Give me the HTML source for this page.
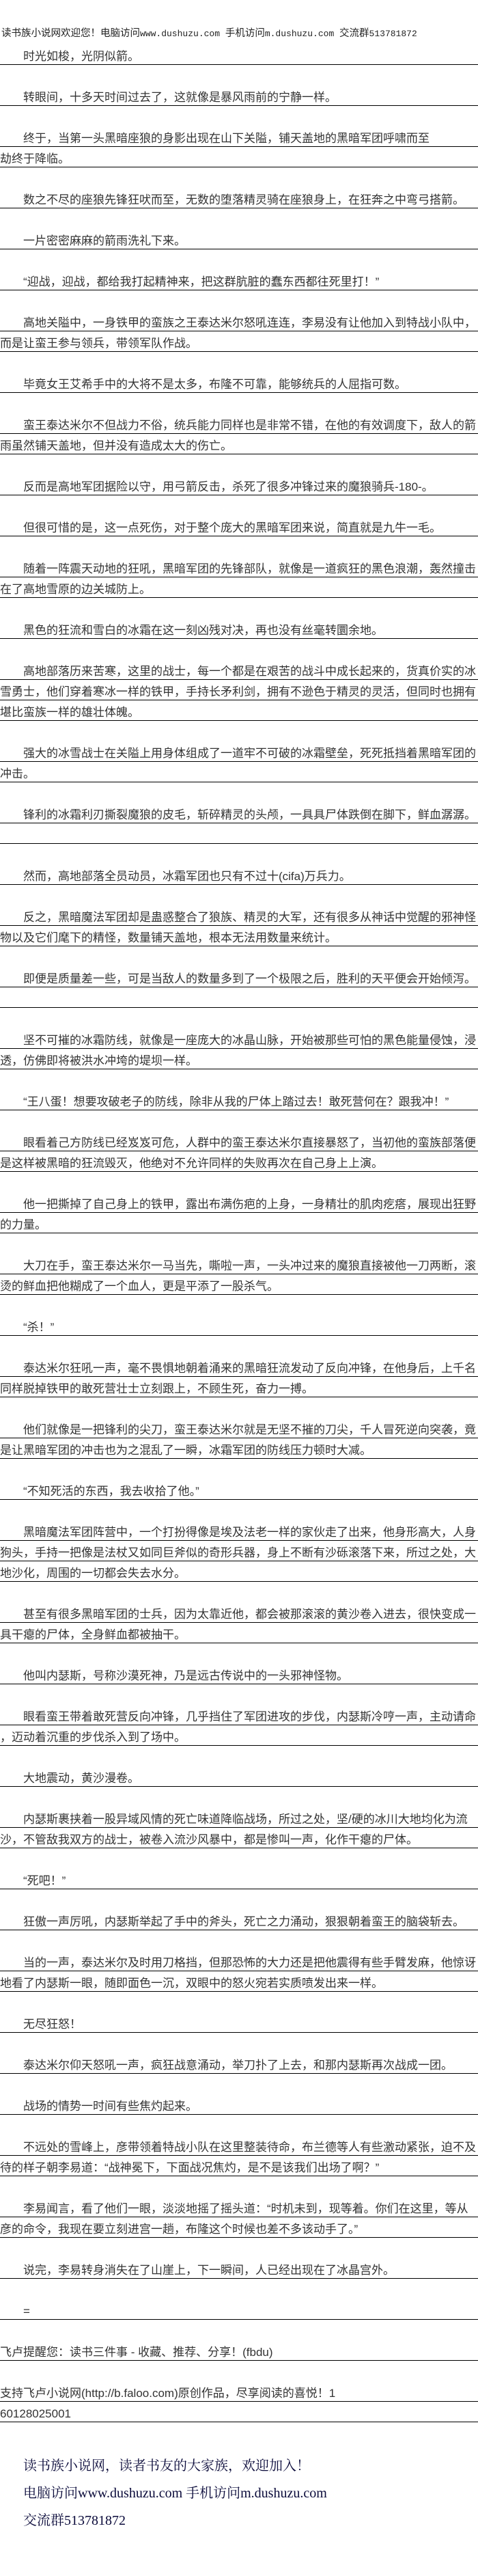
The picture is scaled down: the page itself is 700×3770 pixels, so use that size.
<!DOCTYPE html>
<html><head><meta charset="utf-8">
<style>
html,body{margin:0;padding:0;background:#fff;}
body{width:700px;height:3770px;position:relative;overflow:hidden;font-family:"Liberation Sans","Noto Sans CJK SC",sans-serif;}
.r{position:absolute;left:0;width:700px;height:30px;box-sizing:border-box;border-bottom:1px solid #000;font-size:17px;line-height:22px;padding-top:7px;color:#333;white-space:nowrap;}
.i{padding-left:34px;}
.hd{position:absolute;left:2px;top:40px;font-size:14.5px;line-height:18px;color:#222;white-space:nowrap;}
.m{font-family:"Liberation Mono",monospace;font-size:13px;}
.ft{position:absolute;left:34px;font-family:"Liberation Serif","Noto Serif CJK SC",serif;font-size:20px;line-height:24px;color:#0a0a3a;white-space:nowrap;}
</style></head><body>
<div class="hd">读书族小说网欢迎您！电脑访问<span class="m">www.dushuzu.com </span>手机访问<span class="m">m.dushuzu.com </span>交流群<span class="m">513781872</span></div>
<div class="r i" style="top:65px">时光如梭，光阴似箭。</div>
<div class="r i" style="top:125px">转眼间，十多天时间过去了，这就像是暴风雨前的宁静一样。</div>
<div class="r i" style="top:185px">终于，当第一头黑暗座狼的身影出现在山下关隘，铺天盖地的黑暗军团呼啸而至</div>
<div class="r" style="top:215px">劫终于降临。</div>
<div class="r i" style="top:275px">数之不尽的座狼先锋狂吠而至，无数的堕落精灵骑在座狼身上，在狂奔之中弯弓搭箭。</div>
<div class="r i" style="top:335px">一片密密麻麻的箭雨洗礼下来。</div>
<div class="r i" style="top:395px">“迎战，迎战，都给我打起精神来，把这群肮脏的蠢东西都往死里打！”</div>
<div class="r i" style="top:455px">高地关隘中，一身铁甲的蛮族之王泰达米尔怒吼连连，李易没有让他加入到特战小队中，</div>
<div class="r" style="top:485px">而是让蛮王参与领兵，带领军队作战。</div>
<div class="r i" style="top:545px">毕竟女王艾希手中的大将不是太多，布隆不可靠，能够统兵的人屈指可数。</div>
<div class="r i" style="top:605px">蛮王泰达米尔不但战力不俗，统兵能力同样也是非常不错，在他的有效调度下，敌人的箭</div>
<div class="r" style="top:635px">雨虽然铺天盖地，但并没有造成太大的伤亡。</div>
<div class="r i" style="top:695px">反而是高地军团据险以守，用弓箭反击，杀死了很多冲锋过来的魔狼骑兵-180-。</div>
<div class="r i" style="top:755px">但很可惜的是，这一点死伤，对于整个庞大的黑暗军团来说，简直就是九牛一毛。</div>
<div class="r i" style="top:815px">随着一阵震天动地的狂吼，黑暗军团的先锋部队，就像是一道疯狂的黑色浪潮，轰然撞击</div>
<div class="r" style="top:845px">在了高地雪原的边关城防上。</div>
<div class="r i" style="top:905px">黑色的狂流和雪白的冰霜在这一刻凶残对决，再也没有丝毫转圜余地。</div>
<div class="r i" style="top:965px">高地部落历来苦寒，这里的战士，每一个都是在艰苦的战斗中成长起来的，货真价实的冰</div>
<div class="r" style="top:995px">雪勇士，他们穿着寒冰一样的铁甲，手持长矛利剑，拥有不逊色于精灵的灵活，但同时也拥有</div>
<div class="r" style="top:1025px">堪比蛮族一样的雄壮体魄。</div>
<div class="r i" style="top:1085px">强大的冰雪战士在关隘上用身体组成了一道牢不可破的冰霜壁垒，死死抵挡着黑暗军团的</div>
<div class="r" style="top:1115px">冲击。</div>
<div class="r i" style="top:1175px">锋利的冰霜利刃撕裂魔狼的皮毛，斩碎精灵的头颅，一具具尸体跌倒在脚下，鲜血潺潺。</div>
<div class="r" style="top:1205px"></div>
<div class="r i" style="top:1265px">然而，高地部落全员动员，冰霜军团也只有不过十(cifa)万兵力。</div>
<div class="r i" style="top:1325px">反之，黑暗魔法军团却是蛊惑整合了狼族、精灵的大军，还有很多从神话中觉醒的邪神怪</div>
<div class="r" style="top:1355px">物以及它们麾下的精怪，数量铺天盖地，根本无法用数量来统计。</div>
<div class="r i" style="top:1415px">即便是质量差一些，可是当敌人的数量多到了一个极限之后，胜利的天平便会开始倾泻。</div>
<div class="r" style="top:1445px"></div>
<div class="r i" style="top:1505px">坚不可摧的冰霜防线，就像是一座庞大的冰晶山脉，开始被那些可怕的黑色能量侵蚀，浸</div>
<div class="r" style="top:1535px">透，仿佛即将被洪水冲垮的堤坝一样。</div>
<div class="r i" style="top:1595px">“王八蛋！想要攻破老子的防线，除非从我的尸体上踏过去！敢死营何在？跟我冲！”</div>
<div class="r i" style="top:1655px">眼看着己方防线已经岌岌可危，人群中的蛮王泰达米尔直接暴怒了，当初他的蛮族部落便</div>
<div class="r" style="top:1685px">是这样被黑暗的狂流毁灭，他绝对不允许同样的失败再次在自己身上上演。</div>
<div class="r i" style="top:1745px">他一把撕掉了自己身上的铁甲，露出布满伤疤的上身，一身精壮的肌肉疙瘩，展现出狂野</div>
<div class="r" style="top:1775px">的力量。</div>
<div class="r i" style="top:1835px">大刀在手，蛮王泰达米尔一马当先，嘶啦一声，一头冲过来的魔狼直接被他一刀两断，滚</div>
<div class="r" style="top:1865px">烫的鲜血把他糊成了一个血人，更是平添了一股杀气。</div>
<div class="r i" style="top:1925px">“杀！”</div>
<div class="r i" style="top:1985px">泰达米尔狂吼一声，毫不畏惧地朝着涌来的黑暗狂流发动了反向冲锋，在他身后，上千名</div>
<div class="r" style="top:2015px">同样脱掉铁甲的敢死营壮士立刻跟上，不顾生死，奋力一搏。</div>
<div class="r i" style="top:2075px">他们就像是一把锋利的尖刀，蛮王泰达米尔就是无坚不摧的刀尖，千人冒死逆向突袭，竟</div>
<div class="r" style="top:2105px">是让黑暗军团的冲击也为之混乱了一瞬，冰霜军团的防线压力顿时大减。</div>
<div class="r i" style="top:2165px">“不知死活的东西，我去收拾了他。”</div>
<div class="r i" style="top:2225px">黑暗魔法军团阵营中，一个打扮得像是埃及法老一样的家伙走了出来，他身形高大，人身</div>
<div class="r" style="top:2255px">狗头，手持一把像是法杖又如同巨斧似的奇形兵器，身上不断有沙砾滚落下来，所过之处，大</div>
<div class="r" style="top:2285px">地沙化，周围的一切都会失去水分。</div>
<div class="r i" style="top:2345px">甚至有很多黑暗军团的士兵，因为太靠近他，都会被那滚滚的黄沙卷入进去，很快变成一</div>
<div class="r" style="top:2375px">具干瘪的尸体，全身鲜血都被抽干。</div>
<div class="r i" style="top:2435px">他叫内瑟斯，号称沙漠死神，乃是远古传说中的一头邪神怪物。</div>
<div class="r i" style="top:2495px">眼看蛮王带着敢死营反向冲锋，几乎挡住了军团进攻的步伐，内瑟斯冷哼一声，主动请命</div>
<div class="r" style="top:2525px">，迈动着沉重的步伐杀入到了场中。</div>
<div class="r i" style="top:2585px">大地震动，黄沙漫卷。</div>
<div class="r i" style="top:2645px">内瑟斯裹挟着一股异域风情的死亡味道降临战场，所过之处，坚/硬的冰川大地均化为流</div>
<div class="r" style="top:2675px">沙，不管敌我双方的战士，被卷入流沙风暴中，都是惨叫一声，化作干瘪的尸体。</div>
<div class="r i" style="top:2735px">“死吧！”</div>
<div class="r i" style="top:2795px">狂傲一声厉吼，内瑟斯举起了手中的斧头，死亡之力涌动，狠狠朝着蛮王的脑袋斩去。</div>
<div class="r i" style="top:2855px">当的一声，泰达米尔及时用刀格挡，但那恐怖的大力还是把他震得有些手臂发麻，他惊讶</div>
<div class="r" style="top:2885px">地看了内瑟斯一眼，随即面色一沉，双眼中的怒火宛若实质喷发出来一样。</div>
<div class="r i" style="top:2945px">无尽狂怒！</div>
<div class="r i" style="top:3005px">泰达米尔仰天怒吼一声，疯狂战意涌动，举刀扑了上去，和那内瑟斯再次战成一团。</div>
<div class="r i" style="top:3065px">战场的情势一时间有些焦灼起来。</div>
<div class="r i" style="top:3125px">不远处的雪峰上，彦带领着特战小队在这里整装待命，布兰德等人有些激动紧张，迫不及</div>
<div class="r" style="top:3155px">待的样子朝李易道：“战神冕下，下面战况焦灼，是不是该我们出场了啊？”</div>
<div class="r i" style="top:3215px">李易闻言，看了他们一眼，淡淡地摇了摇头道：“时机未到，现等着。你们在这里，等从</div>
<div class="r" style="top:3245px">彦的命令，我现在要立刻进宫一趟，布隆这个时候也差不多该动手了。”</div>
<div class="r i" style="top:3305px">说完，李易转身消失在了山崖上，下一瞬间，人已经出现在了冰晶宫外。</div>
<div class="r i" style="top:3365px">=</div>
<div class="r" style="top:3425px">飞卢提醒您：读书三件事 - 收藏、推荐、分享！(fbdu)</div>
<div class="r" style="top:3485px">支持飞卢小说网(http://b.faloo.com)原创作品，尽享阅读的喜悦！1</div>
<div class="r" style="top:3515px">60128025001</div>
<div class="ft" style="top:3597px">读书族小说网，读者书友的大家族，欢迎加入！</div>
<div class="ft" style="top:3637px">电脑访问www.dushuzu.com 手机访问m.dushuzu.com</div>
<div class="ft" style="top:3677px">交流群513781872</div>
</body></html>
